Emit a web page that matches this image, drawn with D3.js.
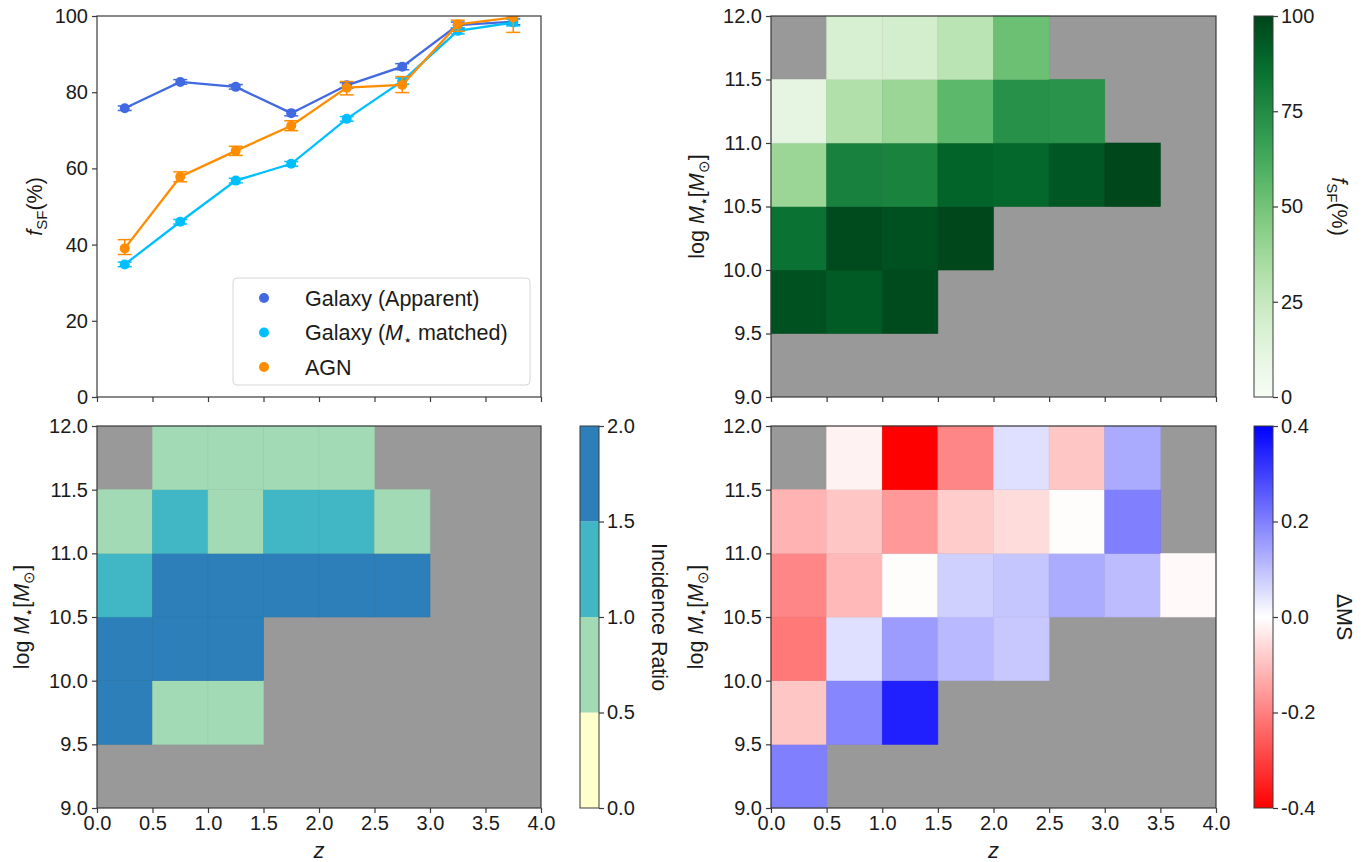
<!DOCTYPE html>
<html>
<head>
<meta charset="utf-8">
<script src="https://cdn.jsdelivr.net/npm/d3@7"></script>
<style>
body { margin: 0; background: #fff; }
text { font-family: "Liberation Sans", Arial, sans-serif; fill: #1a1a1a; }
</style>
</head>
<body>
<svg id="fig" width="1369" height="862"></svg>
<script>
// ---- data ----
var zMid = [0.25, 0.75, 1.25, 1.75, 2.25, 2.75, 3.25, 3.75];
var fsfApparent = [75.8, 82.7, 81.4, 74.5, 81.8, 86.7, 97.6, 98.5];
var fsfApparentErr = [0.6, 0.6, 0.6, 0.7, 0.7, 0.8, 0.8, 0.8];
var fsfMatched = [34.8, 46.0, 56.8, 61.2, 73.0, 82.9, 96.1, 98.3];
var fsfMatchedErr = [0.6, 0.6, 0.6, 0.6, 0.6, 0.8, 0.8, 0.9];
var fsfAgn = [39.0, 57.8, 64.6, 71.2, 81.2, 81.9, 97.8, 99.6];
var fsfAgnLo = [1.6, 1.3, 1.2, 1.3, 1.9, 2.0, 1.8, 3.9];
var fsfAgnHi = [2.3, 1.3, 1.2, 1.3, 1.6, 2.2, 1.1, 0.4];
var fsfTicksLine = [0, 20, 40, 60, 80, 100];

var zEdges = [0, 0.5, 1.0, 1.5, 2.0, 2.5, 3.0, 3.5, 4.0];
var massEdges = [9.0, 9.5, 10.0, 10.5, 11.0, 11.5, 12.0];

// rows go from log M = 9.0-9.5 (first) up to 11.5-12.0 (last); null = no data
var fsfGrid = [
  [null, null, null, null, null, null, null, null],
  [96, 93, 98, null, null, null, null, null],
  [85, 98, 96, 99, null, null, null, null],
  [39, 79, 78, 90, 89, 94, 99, null],
  [11, 32, 39, 56, 73, 72, null, null],
  [null, 18, 20, 29, 52, null, null, null]
];
var incGrid = [
  [null, null, null, null, null, null, null, null],
  [1.7, 0.8, 0.8, null, null, null, null, null],
  [1.7, 1.7, 1.7, null, null, null, null, null],
  [1.2, 1.7, 1.7, 1.7, 1.7, 1.7, null, null],
  [0.8, 1.2, 0.8, 1.2, 1.2, 0.8, null, null],
  [null, 0.8, 0.8, 0.8, 0.8, null, null, null]
];
var dmsGrid = [
  [0.20, null, null, null, null, null, null, null],
  [-0.09, 0.19, 0.35, null, null, null, null, null],
  [-0.21, 0.05, 0.155, 0.11, 0.086, null, null, null],
  [-0.19, -0.11, -0.005, 0.073, 0.09, 0.13, 0.105, -0.01],
  [-0.12, -0.09, -0.16, -0.08, -0.055, -0.005, 0.2, null],
  [null, -0.02, -0.4, -0.19, 0.05, -0.09, 0.133, null]
];
var fsfTicks = [0, 25, 50, 75, 100];
var incTicks = [0, 0.5, 1.0, 1.5, 2.0];
var incColors = ["#ffffcc", "#a1dab4", "#41b6c4", "#2c7fb8"];
var dmsTicks = [-0.4, -0.2, 0.0, 0.2, 0.4];

// ---- layout ----
var svg = d3.select("#fig");
var defs = svg.append("defs");
var left = { x: 97, w: 444 }, right = { x: 771, w: 445 };
var top_ = { y: 16, h: 381 }, bot = { y: 426, h: 382 };
var nanGray = "#999999";
var spine = "#3a3a3a";

// plain hyphen for negatives, like the figure
function fmt1(d) { return d3.format(".1f")(d).replace("\u2212", "-"); }

function mathText(sel, parts) {
  // parts: [text, italic, sub]
  var shift = 0;
  parts.forEach(function (p) {
    var t = sel.append("tspan").text(p[0]);
    if (p[1]) t.style("font-style", "italic");
    var want = p[2] ? 5 : 0;
    if (want !== shift) { t.attr("dy", want - shift); shift = want; }
    if (p[2]) t.style("font-size", "70%");
  });
}
var massLabel = [["log ", 0, 0], ["M", 1, 0], ["\u22c6", 0, 1], ["[", 0, 0], ["M", 1, 0], ["\u2299", 0, 1], ["]", 0, 0]];
var fsfLabel = [["f", 1, 0], ["SF", 0, 1], ["(%)", 0, 0]];

function styleAxis(g) {
  g.select(".domain").remove();
  g.selectAll(".tick line").attr("stroke", spine).attr("stroke-width", 1.2);
  g.selectAll(".tick text").style("font-size", "20px").attr("fill", "#1a1a1a")
    .style("font-family", '"Liberation Sans", Arial, sans-serif');
}

function frame(g, px, py) {
  g.append("rect").attr("x", px.x).attr("y", py.y).attr("width", px.w).attr("height", py.h)
    .attr("fill", "none").attr("stroke", spine).attr("stroke-width", 1.2);
}

function axesFor(px, py, yDomain) {
  var xs = d3.scaleLinear().domain([0, 4]).range([px.x, px.x + px.w]);
  var ys = d3.scaleLinear().domain(yDomain).range([py.y + py.h, py.y]);
  return { xs: xs, ys: ys };
}

function drawXAxis(a, py, labels) {
  var g = svg.append("g").attr("transform", "translate(0," + (py.y + py.h) + ")")
    .call(d3.axisBottom(a.xs).tickValues(zEdges).tickSize(5).tickPadding(3)
      .tickFormat(labels ? fmt1 : function () { return ""; }));
  styleAxis(g);
  if (labels) {
    var cx = (a.xs.range()[0] + a.xs.range()[1]) / 2;
    svg.append("text").attr("x", cx).attr("y", 858).attr("text-anchor", "middle")
      .style("font-size", "22px").style("font-style", "italic").text("z");
  }
}

function drawYAxis(a, px, ticks, fmt, labelX, labelParts) {
  var g = svg.append("g").attr("transform", "translate(" + px.x + ",0)")
    .call(d3.axisLeft(a.ys).tickValues(ticks).tickSize(5).tickPadding(4).tickFormat(fmt));
  styleAxis(g);
  var cy = (a.ys.range()[0] + a.ys.range()[1]) / 2;
  var t = svg.append("text").attr("text-anchor", "middle")
    .attr("transform", "translate(" + labelX + "," + cy + ") rotate(-90)")
    .attr("dy", "0.35em").style("font-size", "21.5px");
  mathText(t, labelParts);
}

function heatmap(a, px, py, grid, color) {
  svg.append("rect").attr("x", px.x).attr("y", py.y).attr("width", px.w).attr("height", py.h)
    .attr("fill", nanGray);
  var cells = [];
  grid.forEach(function (row, i) {
    row.forEach(function (v, j) { if (v !== null) cells.push({ i: i, j: j, v: v }); });
  });
  svg.append("g").selectAll("rect").data(cells).join("rect")
    .attr("x", function (d) { return a.xs(zEdges[d.j]); })
    .attr("y", function (d) { return a.ys(massEdges[d.i + 1]); })
    .attr("width", function (d) { return a.xs(zEdges[d.j + 1]) - a.xs(zEdges[d.j]); })
    .attr("height", function (d) { return a.ys(massEdges[d.i]) - a.ys(massEdges[d.i + 1]); })
    .attr("fill", function (d) { return color(d.v); })
    .attr("stroke", function (d) { return d3.color(color(d.v)).darker(0.15); })
    .attr("stroke-width", 0.6);
}

function colorbar(id, cx, py, domain, ticks, fmt, interp, discrete, labelX, labelParts) {
  var cw = 19;
  var cs = d3.scaleLinear().domain(domain).range([py.y + py.h, py.y]);
  if (discrete) {
    var bands = d3.pairs(ticks);
    svg.append("g").selectAll("rect").data(bands).join("rect")
      .attr("x", cx).attr("width", cw)
      .attr("y", function (d) { return cs(d[1]); })
      .attr("height", function (d) { return cs(d[0]) - cs(d[1]); })
      .attr("fill", function (d, i) { return discrete[i]; });
  } else {
    var grad = defs.append("linearGradient").attr("id", id)
      .attr("x1", 0).attr("y1", 1).attr("x2", 0).attr("y2", 0);
    d3.range(0, 1.0001, 0.02).forEach(function (t) {
      grad.append("stop").attr("offset", t).attr("stop-color", interp(domain[0] + t * (domain[1] - domain[0])));
    });
    svg.append("rect").attr("x", cx).attr("y", py.y).attr("width", cw).attr("height", py.h)
      .attr("fill", "url(#" + id + ")");
  }
  svg.append("rect").attr("x", cx).attr("y", py.y).attr("width", cw).attr("height", py.h)
    .attr("fill", "none").attr("stroke", spine).attr("stroke-width", 1);
  var g = svg.append("g").attr("transform", "translate(" + (cx + cw) + ",0)")
    .call(d3.axisRight(cs).tickValues(ticks).tickSize(5).tickPadding(3).tickFormat(fmt));
  styleAxis(g);
  var cy = py.y + py.h / 2;
  var t = svg.append("text").attr("text-anchor", "middle")
    .attr("transform", "translate(" + labelX + "," + cy + ") rotate(90)")
    .attr("dy", "0.35em").style("font-size", "21.5px");
  mathText(t, labelParts);
}

// ---- panel 1: f_SF vs z ----
var a1 = axesFor(left, top_, [0, 100]);
svg.append("rect").attr("x", left.x).attr("y", top_.y).attr("width", left.w).attr("height", top_.h).attr("fill", "#fff");
defs.append("clipPath").attr("id", "clip1").append("rect")
  .attr("x", left.x).attr("y", top_.y).attr("width", left.w).attr("height", top_.h);

var series = [
  { name: [["Galaxy (Apparent)", 0, 0]], color: "#4169e1", v: fsfApparent, lo: fsfApparentErr, hi: fsfApparentErr },
  { name: [["Galaxy (", 0, 0], ["M", 1, 0], ["\u22c6", 0, 1], [" matched)", 0, 0]], color: "#00bfff", v: fsfMatched, lo: fsfMatchedErr, hi: fsfMatchedErr },
  { name: [["AGN", 0, 0]], color: "#ff8c00", v: fsfAgn, lo: fsfAgnLo, hi: fsfAgnHi }
];
var plot1 = svg.append("g").attr("clip-path", "url(#clip1)");
series.forEach(function (s) {
  var pts = zMid.map(function (z, i) { return { z: z, v: s.v[i], lo: s.v[i] - s.lo[i], hi: s.v[i] + s.hi[i] }; });
  var g = plot1.append("g");
  g.append("path").datum(pts).attr("fill", "none").attr("stroke", s.color).attr("stroke-width", 2.3)
    .attr("d", d3.line().x(function (d) { return a1.xs(d.z); }).y(function (d) { return a1.ys(d.v); }));
  g.selectAll(".eb").data(pts).join("line").attr("stroke", s.color).attr("stroke-width", 1.5)
    .attr("x1", function (d) { return a1.xs(d.z); }).attr("x2", function (d) { return a1.xs(d.z); })
    .attr("y1", function (d) { return a1.ys(d.lo); }).attr("y2", function (d) { return a1.ys(d.hi); });
  ["lo", "hi"].forEach(function (k) {
    g.selectAll(".cap" + k).data(pts).join("line").attr("stroke", s.color).attr("stroke-width", 1.5)
      .attr("x1", function (d) { return a1.xs(d.z) - 7; }).attr("x2", function (d) { return a1.xs(d.z) + 7; })
      .attr("y1", function (d) { return a1.ys(d[k]); }).attr("y2", function (d) { return a1.ys(d[k]); });
  });
  g.selectAll("circle").data(pts).join("circle").attr("fill", s.color).attr("r", 5)
    .attr("cx", function (d) { return a1.xs(d.z); }).attr("cy", function (d) { return a1.ys(d.v); });
});
drawXAxis(a1, top_, false);
drawYAxis(a1, left, fsfTicksLine, d3.format("d"), 34, fsfLabel);
frame(svg, left, top_);

// legend
var lg = svg.append("g");
lg.append("rect").attr("x", 233).attr("y", 278).attr("width", 297).attr("height", 107).attr("rx", 4)
  .attr("fill", "#fff").attr("fill-opacity", 0.8).attr("stroke", "#d6d6d6").attr("stroke-width", 1);
series.forEach(function (s, i) {
  var y = 298 + i * 34.5;
  lg.append("circle").attr("cx", 264).attr("cy", y).attr("r", 5).attr("fill", s.color);
  var t = lg.append("text").attr("x", 305).attr("y", y).attr("dy", "0.35em").style("font-size", "21.5px");
  mathText(t, s.name);
});

// ---- panel 2: f_SF map ----
var a2 = axesFor(right, top_, [9, 12]);
var greens = d3.scaleSequential(d3.interpolateGreens).domain([0, 100]);
heatmap(a2, right, top_, fsfGrid, greens);
drawXAxis(a2, top_, false);
drawYAxis(a2, right, massEdges, fmt1, 696, massLabel);
frame(svg, right, top_);
colorbar("gGreens", 1254, top_, [0, 100], fsfTicks, d3.format("d"), greens, null, 1340, fsfLabel);

// ---- panel 3: incidence ratio ----
var a3 = axesFor(left, bot, [9, 12]);
var incColor = d3.scaleThreshold().domain(incTicks.slice(1, -1)).range(incColors);
heatmap(a3, left, bot, incGrid, incColor);
drawXAxis(a3, bot, true);
drawYAxis(a3, left, massEdges, fmt1, 21, massLabel);
frame(svg, left, bot);
colorbar("gInc", 580, bot, [0, 2], incTicks, fmt1, null, incColors, 660, [["Incidence Ratio", 0, 0]]);

// ---- panel 4: delta MS ----
var a4 = axesFor(right, bot, [9, 12]);
var bwr = d3.scaleLinear().domain([-0.4, 0, 0.4]).range(["#ff0000", "#ffffff", "#0000ff"]).clamp(true);
heatmap(a4, right, bot, dmsGrid, bwr);
drawXAxis(a4, bot, true);
drawYAxis(a4, right, massEdges, fmt1, 695, massLabel);
frame(svg, right, bot);
colorbar("gBwr", 1254, bot, [-0.4, 0.4], dmsTicks, fmt1, bwr, null, 1345, [["\u0394MS", 0, 0]]);
</script>
</body>
</html>
